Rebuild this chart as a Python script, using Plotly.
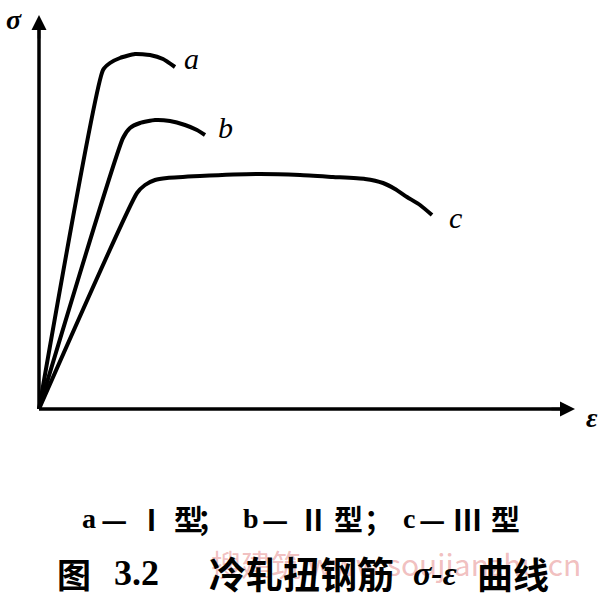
import plotly.graph_objects as go

# strain (ε) and stress (σ) values, arbitrary units
eps_a = [0, 6.4, 7.1, 8.1, 9.6, 11.1, 12.4, 13.6]
sig_a = [0, 33.9, 34.6, 35.1, 35.5, 35.4, 35.0, 34.2]

eps_b = [0, 8.4, 9.1, 10.1, 11.6, 13.1, 14.6, 15.8, 16.6]
sig_b = [0, 27.1, 28.1, 28.6, 28.9, 28.8, 28.4, 27.9, 27.4]

eps_c = [0, 9.8, 10.6, 11.6, 12.8, 16.1, 21.8, 26.1, 29.4, 32.6, 34.4, 35.6, 36.8, 38.1, 39.3]
sig_c = [0, 21.6, 22.4, 22.9, 23.1, 23.3, 23.5, 23.4, 23.2, 23.0, 22.6, 22.0, 21.2, 20.4, 19.4]

curve_labels = ["a", "b", "c"]
# caption line 1 pieces: "a—Ⅰ型；b—Ⅱ型；c—Ⅲ型"
cap1_text = ["a", "—", "Ⅰ", "型", "；", "b", "—", "Ⅱ", "型", "；", "c", "—", "Ⅲ", "型"]
cap1_x = [5.0, 7.5, 11.2, 14.9, 17.2, 21.2, 23.6, 27.4, 30.9, 33.9, 37.0, 39.3, 42.8, 46.6]
# caption line 2 pieces: "图 3.2  冷轧扭钢筋σ-ε 曲线"
cap2_text = ["图", "3.2", "冷轧扭钢筋", "<i>σ-ε</i>", "曲线"]
cap2_x = [3.5, 9.7, 26.2, 39.6, 47.4]
watermark = "搜建筑 www.soujianzhu.cn"

fig = go.Figure()
for ex, sy in [(eps_a, sig_a), (eps_b, sig_b), (eps_c, sig_c)]:
    fig.add_trace(go.Scatter(x=ex, y=sy, mode="lines",
                             line=dict(color="black", width=4, shape="spline", smoothing=0.5),
                             showlegend=False, hoverinfo="skip"))

x_end, y_end = 53.6, 39.4
# axes
fig.add_shape(type="line", x0=0, y0=0, x1=0, y1=y_end - 1.0, line=dict(color="black", width=3.5))
fig.add_shape(type="line", x0=0, y0=0, x1=x_end - 1.0, y1=0, line=dict(color="black", width=3.5))
fig.add_annotation(x=0, y=y_end, ax=0, ay=y_end - 2.5, axref="x", ayref="y", xref="x", yref="y",
                   text="", showarrow=True, arrowhead=2, arrowsize=1.2, arrowwidth=2.5, arrowcolor="black")
fig.add_annotation(x=x_end, y=0, ax=x_end - 2.5, ay=0, axref="x", ayref="y", xref="x", yref="y",
                   text="", showarrow=True, arrowhead=2, arrowsize=1.2, arrowwidth=2.5, arrowcolor="black")

serif = "Liberation Serif"
cjk = "Noto Sans CJK SC"
lab_pos = [(15.2, 35.1), (18.6, 28.2), (41.6, 19.2)]
for t, (lx, ly) in zip(curve_labels, lab_pos):
    fig.add_annotation(x=lx, y=ly, text="<i>" + t + "</i>", showarrow=False,
                       font=dict(family=serif, size=30, color="black"))
fig.add_annotation(x=-2.5, y=39.0, text="<b><i>σ</i></b>", showarrow=False,
                   font=dict(family=serif, size=28, color="black"))
fig.add_annotation(x=55.3, y=-0.8, text="<b><i>ε</i></b>", showarrow=False,
                   font=dict(family=serif, size=28, color="black"))

# watermark first so caption is drawn on top
fig.add_annotation(x=35.7, y=-15.4, text=watermark, showarrow=False,
                   font=dict(family=cjk, size=30, color="rgba(220,90,90,0.40)"))
for t, cx in zip(cap1_text, cap1_x):
    fam = serif if t in ("a", "b", "c") else cjk
    fig.add_annotation(x=cx, y=-10.9, text="<b>" + t + "</b>", showarrow=False,
                       font=dict(family=fam, size=28 if fam == serif else 29, color="black"))
cap2_sizes = [34, 36, 37, 34, 36]
for t, cx, s in zip(cap2_text, cap2_x, cap2_sizes):
    fam = serif if "σ" in t or t == "3.2" else cjk
    fig.add_annotation(x=cx, y=-16.4, text="<b>" + t + "</b>", showarrow=False,
                       font=dict(family=fam, size=s, color="black"))

fig.update_layout(width=608, height=600, margin=dict(l=0, r=0, t=0, b=0),
                  paper_bgcolor="white", plot_bgcolor="white",
                  xaxis=dict(range=[-3.9, 56.9], visible=False, fixedrange=True),
                  yaxis=dict(range=[-19.1, 40.9], visible=False, fixedrange=True))
fig.write_html("out.html", config={"displayModeBar": False},
               post_script="document.body.style.margin='0';document.body.style.padding='0';")
